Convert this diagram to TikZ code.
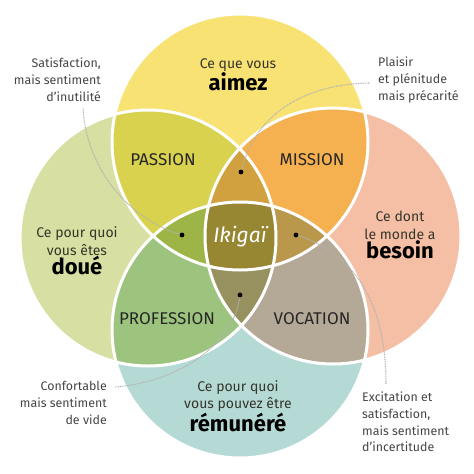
\documentclass[tikz,border=0pt]{standalone}
\usepackage{fontspec}
\setmainfont{Fira Sans}
\definecolor{cTop}{HTML}{F8E274}
\definecolor{cLeft}{HTML}{D7E0A2}
\definecolor{cRight}{HTML}{F5BFA6}
\definecolor{cBot}{HTML}{B5DAD6}
\definecolor{cTL}{HTML}{D8D24F}
\definecolor{cTR}{HTML}{F5B050}
\definecolor{cBL}{HTML}{9CC47F}
\definecolor{cBR}{HTML}{B4A996}
\definecolor{cTLR}{HTML}{D2A13F}
\definecolor{cTLB}{HTML}{9DB547}
\definecolor{cTRB}{HTML}{B9984C}
\definecolor{cLRB}{HTML}{97915F}
\definecolor{cAll}{HTML}{978632}
\definecolor{sideText}{HTML}{454545}
\definecolor{mainText}{HTML}{35352A}
\begin{document}
\begin{tikzpicture}[x=1pt,y=-1pt,
  side/.style={text=sideText,font=\fontsize{12.4}{16.8}\selectfont,inner sep=0pt},
  mainlbl/.style={text=mainText,font=\fontsize{14}{17.5}\selectfont,align=center,inner sep=0pt},
  zone/.style={text=black!85,font=\fontsize{17}{18}\selectfont,inner sep=0pt},
  dotnode/.style={circle,fill=black,inner sep=0pt,minimum size=4.6pt},
  conn/.style={draw=gray!60,line width=1.1pt,dash pattern=on 0.9pt off 0.8pt}]
\useasboundingbox (0,0) rectangle (474,474);
\coordinate (T) at (240,142);
\coordinate (L) at (148,238);
\coordinate (R) at (333,236);
\coordinate (B) at (240,330);
\def\rad{128pt}
% base circles
\fill[cTop] (T) circle[radius=\rad];
\fill[cLeft] (L) circle[radius=\rad];
\fill[cRight] (R) circle[radius=\rad];
\fill[cBot] (B) circle[radius=\rad];
% pairs
\begin{scope}\clip (T) circle[radius=\rad]; \fill[cTL] (L) circle[radius=\rad]; \fill[cTR] (R) circle[radius=\rad];\end{scope}
\begin{scope}\clip (B) circle[radius=\rad]; \fill[cBL] (L) circle[radius=\rad]; \fill[cBR] (R) circle[radius=\rad];\end{scope}
% triples
\begin{scope}\clip (T) circle[radius=\rad]; \clip (L) circle[radius=\rad]; \fill[cTLR] (R) circle[radius=\rad];\end{scope}
\begin{scope}\clip (T) circle[radius=\rad]; \clip (L) circle[radius=\rad]; \fill[cTLB] (B) circle[radius=\rad];\end{scope}
\begin{scope}\clip (T) circle[radius=\rad]; \clip (R) circle[radius=\rad]; \fill[cTRB] (B) circle[radius=\rad];\end{scope}
\begin{scope}\clip (L) circle[radius=\rad]; \clip (R) circle[radius=\rad]; \fill[cLRB] (B) circle[radius=\rad];\end{scope}
% all four
\begin{scope}\clip (T) circle[radius=\rad]; \clip (L) circle[radius=\rad]; \clip (R) circle[radius=\rad]; \fill[cAll] (B) circle[radius=\rad];\end{scope}
% white outlines
\foreach \c in {T,L,R,B} \draw[white,line width=3pt] (\c) circle[radius=\rad];

% main labels
\node[mainlbl] (aimez) at (238,75) {Ce que vous\\[0pt]{\fontsize{22}{22}\selectfont\bfseries\color{black} aimez}};
\node[mainlbl] (doue) at (77,251) {Ce pour quoi\\vous êtes\\[0pt]{\fontsize{22}{22}\selectfont\bfseries\color{black} doué}};
\node[mainlbl] (besoin) at (400,235) {Ce dont\\le monde a\\[0pt]{\fontsize{22}{22}\selectfont\bfseries\color{black} besoin}};
\node[mainlbl] (remunere) at (238,406) {Ce pour quoi\\vous pouvez être\\[0pt]{\fontsize{22}{22}\selectfont\bfseries\color{black} rémunéré}};

% zone labels
\node[zone] (passion) at (163,160) {PASSION};
\node[zone] (mission) at (312,160) {MISSION};
\node[zone] (profession) at (167,319) {PROFESSION};
\node[zone] (vocation) at (312,319) {VOCATION};
\node[text=white,font=\fontsize{21}{21}\selectfont\itshape,inner sep=0pt] (ikigai) at (240,237) {Ikigaï};

% side labels
\node[side,anchor=east,align=right] (s1) at (101,80) {Satisfaction,\\mais sentiment\\d’inutilité};
\node[side,anchor=west,align=left] (s2) at (378,80) {Plaisir\\et plénitude\\mais précarité};
\node[side,anchor=east,align=right] (s3) at (107,403) {Confortable\\mais sentiment\\de vide};
\node[side,anchor=west,align=left] (s4) at (362,422) {Excitation et\\satisfaction,\\mais sentiment\\d’incertitude};

% dots
\node[dotnode] (d1) at (182,235) {};
\node[dotnode] (d2) at (241,172) {};
\node[dotnode] (d3) at (296,235) {};
\node[dotnode] (d4) at (240,295) {};
\coordinate (e1) at (83,108);
\coordinate (e2) at (370,83);
\coordinate (e3) at (386,384);
\coordinate (e4) at (115,387);

% connectors
\draw[conn] (d1.center) .. controls (125,218) and (86,165) .. (e1);
\draw[conn] (d2.center) .. controls (253,118) and (300,84) .. (e2);
\draw[conn] (d3.center) .. controls (352,252) and (386,300) .. (e3);
\draw[conn] (d4.center) .. controls (236,342) and (180,382) .. (e4);
\node[dotnode] at (d1) {};
\node[dotnode] at (d2) {};
\node[dotnode] at (d3) {};
\node[dotnode] at (d4) {};
\end{tikzpicture}
\end{document}
